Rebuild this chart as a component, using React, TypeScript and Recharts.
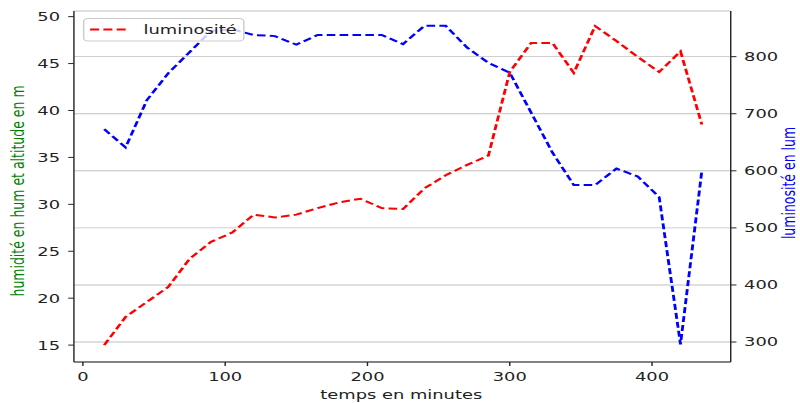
import React from 'react';
import { LineChart, Line, XAxis, YAxis, CartesianGrid, Legend } from 'recharts';

// ---- data ----
const times = [15, 30, 45, 60, 75, 90, 105, 120, 135, 150, 165, 180, 195, 210, 225, 240, 255, 270, 285, 300, 315, 330, 345, 360, 375, 390, 405, 420, 435];
const humidity = [15.0, 18.0, 19.6, 21.2, 24.2, 26.0, 27.0, 28.9, 28.6, 28.9, 29.6, 30.2, 30.6, 29.6, 29.5, 31.7, 33.1, 34.2, 35.2, 44.1, 47.2, 47.2, 44.0, 49.0, 47.4, 45.7, 44.1, 46.3, 38.5];
const luminosity = [673, 641, 724, 771, 808, 845, 848, 838, 836, 821, 838, 838, 838, 838, 822, 854, 854, 816, 789, 772, 702, 632, 575, 575, 604, 590, 554, 296, 600];
const xTicks = [0, 100, 200, 300, 400];
const leftTicks = [15, 20, 25, 30, 35, 40, 45, 50];
const rightTicks = [300, 400, 500, 600, 700, 800];
const legendLabel = 'luminosité';
const xLabel = 'temps en minutes';
const leftLabel = 'humidité en hum et altitude en m';
const rightLabel = 'luminosité en lum';

const data = times.map((t, i) => ({ t, hum: humidity[i], lum: luminosity[i] }));

// ---- layout / style ----
const S = 1.43; // horizontal stretch of the reference image
const W = 559;
const H = 403;
const FONT = '"DejaVu Sans", sans-serif';
const FS = 12.5;
const INK = '#222222';
const SPINE = '#262626';

const LeftAxisLabel = () => (
  <text x={17} y={191} transform="rotate(-90 17 191)" textAnchor="middle" fill="#008000" fontFamily={FONT} fontSize={FS}>
    {leftLabel}
  </text>
);

const RightAxisLabel = () => (
  <text x={555.8} y={183} transform="rotate(-90 555.8 183)" textAnchor="middle" fill="#0000ff" fontFamily={FONT} fontSize={FS}>
    {rightLabel}
  </text>
);

const BottomAxisLabel = () => (
  <text x={280.6} y={399} textAnchor="middle" fill={INK} fontFamily={FONT} fontSize={FS}>
    {xLabel}
  </text>
);

const LegendBox = () => (
  <svg width={113} height={24} style={{ display: 'block', overflow: 'visible' }}>
    <rect x={0.5} y={0.5} width={112} height={22.5} rx={3} ry={3} fill="rgba(255,255,255,0.8)" stroke="#cccccc" strokeWidth={1} />
    <line x1={5} y1={11.5} x2={30.5} y2={11.5} stroke="#ff0000" strokeWidth={2} strokeDasharray="6.3 3" />
    <text x={42.4} y={16} fill={INK} fontFamily={FONT} fontSize={FS}>
      {legendLabel}
    </text>
  </svg>
);

export default function App() {
  return (
    <div style={{ position: 'absolute', left: 0, top: 0, width: 800, height: H, overflow: 'hidden', background: '#fff' }}>
      <div style={{ width: W, height: H, transform: `scaleX(${S})`, transformOrigin: '0 0' }}>
        <LineChart width={W} height={H} data={data} margin={{ top: 11, right: 0, bottom: 0, left: 0 }}>
          <CartesianGrid yAxisId="right" vertical={false} horizontal={true} stroke="#c0c0c0" strokeWidth={0.9} />
          <XAxis
            xAxisId="bottom"
            dataKey="t"
            type="number"
            domain={[-6.3, 455.3]}
            ticks={xTicks}
            allowDataOverflow
            height={41}
            tickSize={4}
            tickMargin={6}
            stroke={SPINE}
            tick={{ fill: INK, fontFamily: FONT, fontSize: FS }}
            label={<BottomAxisLabel />}
          />
          <XAxis
            xAxisId="top"
            orientation="top"
            dataKey="t"
            type="number"
            domain={[-6.3, 455.3]}
            allowDataOverflow
            height={0}
            tick={false}
            tickLine={false}
            stroke={SPINE}
          />
          <YAxis
            yAxisId="left"
            orientation="left"
            type="number"
            domain={[13.2, 50.6]}
            ticks={leftTicks}
            allowDataOverflow
            width={51.7}
            tickSize={4}
            tickMargin={5.7}
            stroke={SPINE}
            tick={{ fill: INK, fontFamily: FONT, fontSize: FS }}
            label={<LeftAxisLabel />}
          />
          <YAxis
            yAxisId="right"
            orientation="right"
            type="number"
            domain={[265, 880]}
            ticks={rightTicks}
            allowDataOverflow
            width={48}
            tickSize={4}
            tickMargin={5.3}
            stroke={SPINE}
            tick={{ fill: INK, fontFamily: FONT, fontSize: FS }}
            label={<RightAxisLabel />}
          />
          <Line
            xAxisId="bottom"
            yAxisId="left"
            type="linear"
            dataKey="hum"
            name={legendLabel}
            stroke="#ff0000"
            strokeWidth={2}
            strokeDasharray="6 3"
            dot={false}
            activeDot={false}
            isAnimationActive={false}
          />
          <Line
            xAxisId="bottom"
            yAxisId="right"
            type="linear"
            dataKey="lum"
            name="lum"
            legendType="none"
            stroke="#0000ff"
            strokeWidth={2}
            strokeDasharray="6 3"
            dot={false}
            activeDot={false}
            isAnimationActive={false}
          />
          <Legend
            layout="horizontal"
            verticalAlign="middle"
            align="center"
            wrapperStyle={{ left: 58.3, top: 17.5, width: 113, height: 24 }}
            content={() => <LegendBox />}
          />
        </LineChart>
      </div>
    </div>
  );
}
